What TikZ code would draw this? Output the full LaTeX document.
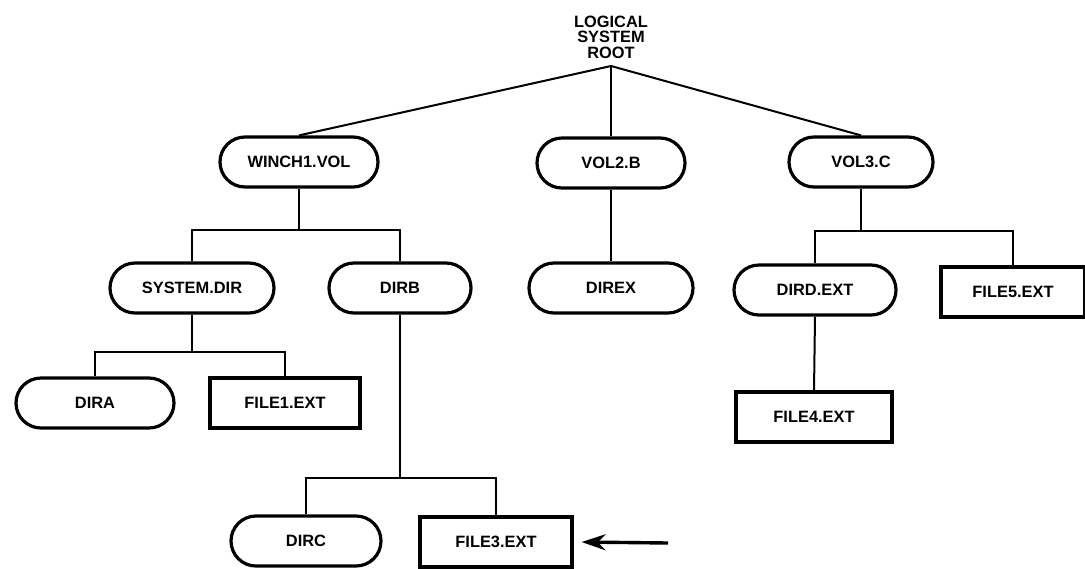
\documentclass[tikz,border=0pt]{standalone}
\usepackage{fontspec}
\setmainfont{Liberation Sans}
\usetikzlibrary{shapes.misc,arrows.meta}

\begin{document}
\begin{tikzpicture}[x=0.5pt,y=-0.5pt,
    dir/.style={rounded rectangle,draw,line width=1.6pt,minimum height=25pt,inner sep=2pt,font=\bfseries\fontsize{8.2}{10}\selectfont},
    file/.style={rectangle,draw,line width=1.6pt,minimum height=25pt,inner sep=2pt,font=\bfseries\fontsize{8.2}{10}\selectfont},
    link/.style={line width=1pt}]
            \useasboundingbox (0,0) rectangle (1085,568);
            \node[align=center,font=\bfseries\fontsize{8.2}{7.7}\selectfont] (rootlbl) at (611,37) {LOGICAL\\SYSTEM\\ROOT};
            \coordinate (root) at (611,66);
            \node[dir,minimum width=83pt] (winch) at (299,162) {WINCH1.VOL};
            \node[dir,minimum width=78pt] (vol2) at (611,163) {VOL2.B};
            \node[dir,minimum width=76pt] (vol3) at (861,162) {VOL3.C};
            \node[dir,minimum width=86pt] (sysdir) at (192,288) {SYSTEM.DIR};
            \node[dir,minimum width=75pt] (dirb) at (400,288) {DIRB};
            \node[dir,minimum width=86pt] (direx) at (611,288) {DIREX};
            \node[dir,minimum width=85pt] (dird) at (815,290) {DIRD.EXT};
            \node[file,minimum width=72pt] (file5) at (1013,292) {FILE5.EXT};
            \node[dir,minimum width=83pt] (dira) at (95,403) {DIRA};
            \node[file,minimum width=75pt] (file1) at (285,403) {FILE1.EXT};
            \node[file,minimum width=78pt] (file4) at (814,417) {FILE4.EXT};
            \node[dir,minimum width=79pt] (dirc) at (306,541) {DIRC};
            \node[file,minimum width=76pt] (file3) at (496,542) {FILE3.EXT};
            \draw[link] (root) -- (winch.north);
            \draw[link] (root) -- (vol2.north);
            \draw[link] (root) -- (vol3.north);
            \coordinate (wbus) at (299,230);
            \draw[link] (winch.south) -- (wbus);
            \draw[link] (sysdir.north) |- (wbus) -| (dirb.north);
            \draw[link] (vol2.south) -- (direx.north);
            \coordinate (vbus) at (861,231);
            \draw[link] (vol3.south) -- (vbus);
            \draw[link] (dird.north) |- (vbus) -| (file5.north);
            \coordinate (sbus) at (192,352);
            \draw[link] (sysdir.south) -- (sbus);
            \draw[link] (dira.north) |- (sbus) -| (file1.north);
            \draw[link] (dird.south) -- (file4.north);
            \coordinate (bbus) at (400,478);
            \draw[link] (dirb.south) -- (bbus);
            \draw[link] (dirc.north) |- (bbus) -| (file3.north);
            \coordinate (ptr) at (668,543);
            \draw[line width=1.7pt,-{Stealth[length=12pt,width=8pt]}] (ptr) -- ([xshift=4pt]file3.east);
        \end{tikzpicture}
\end{document}
